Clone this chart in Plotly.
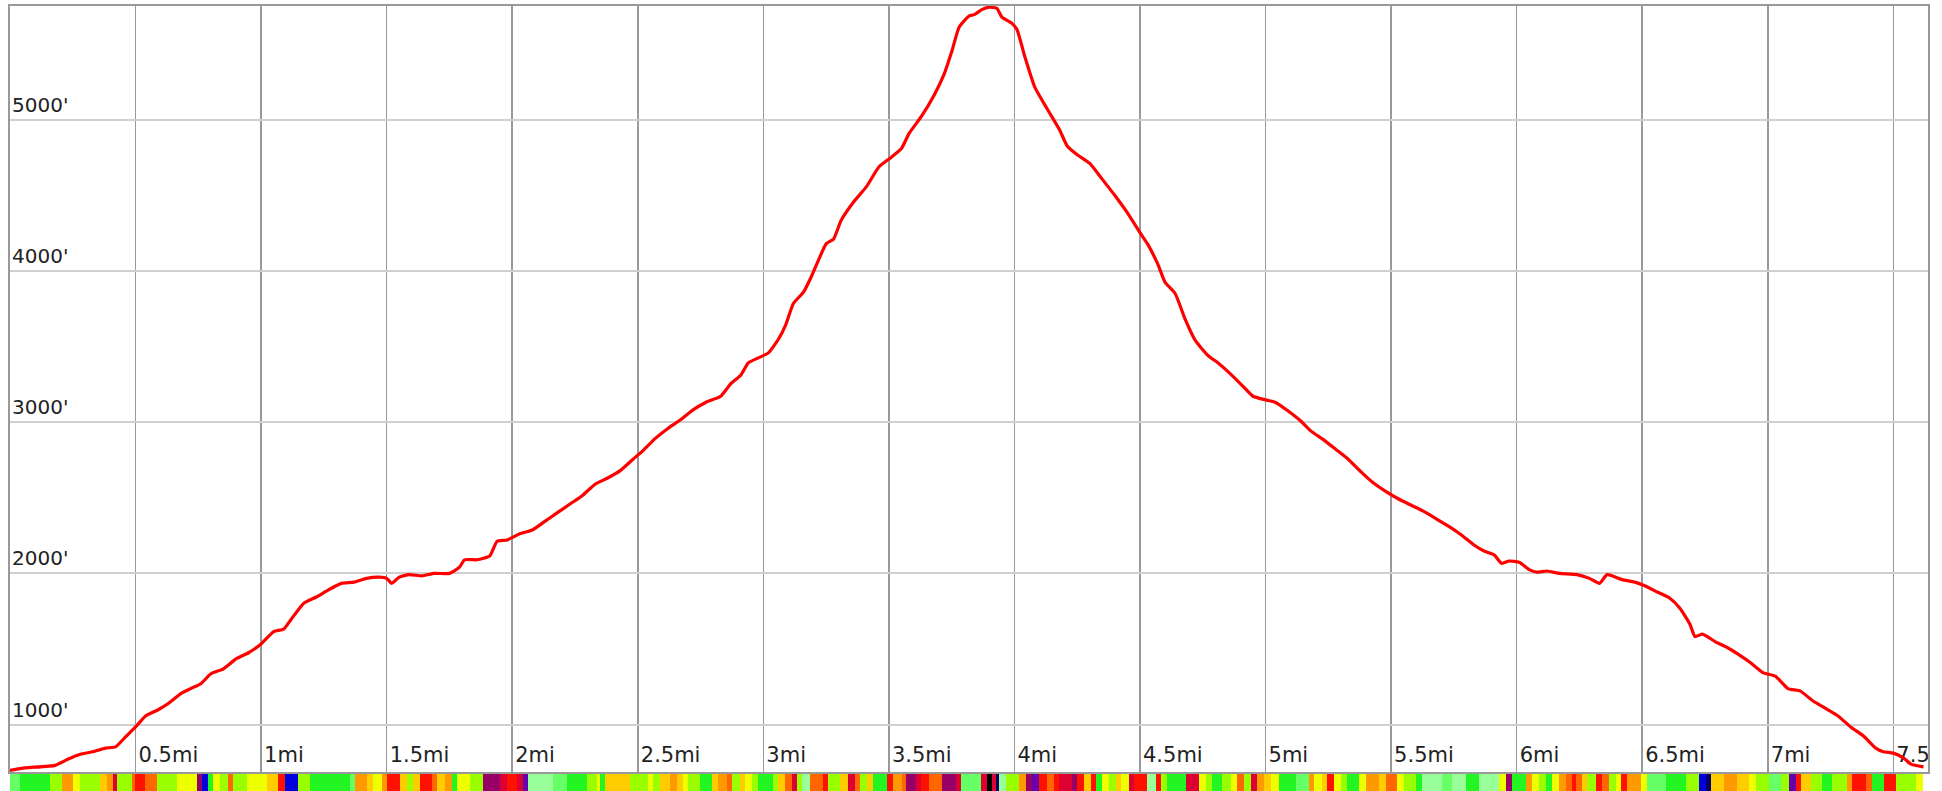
import plotly.graph_objects as go
import numpy as np

# ---- Elevation profile (distance in miles, elevation in feet) ----
dist_mi = [0.00, 0.06, 0.18, 0.23, 0.28, 0.33, 0.38, 0.42, 0.46, 0.50, 0.54, 0.59, 0.63, 0.68, 0.73,
           0.76, 0.80, 0.85, 0.90, 0.95, 1.00, 1.05, 1.09, 1.12, 1.17, 1.22, 1.27, 1.32, 1.37, 1.42,
           1.47, 1.50, 1.52, 1.55, 1.59, 1.64, 1.69, 1.75, 1.79, 1.81, 1.86, 1.91, 1.94, 1.98, 2.03,
           2.08, 2.13, 2.18, 2.23, 2.28, 2.33, 2.38, 2.43, 2.48, 2.52, 2.57, 2.62, 2.67, 2.72, 2.77,
           2.83, 2.87, 2.91, 2.94, 2.98, 3.02, 3.06, 3.09, 3.12, 3.16, 3.19, 3.22, 3.25, 3.28, 3.31,
           3.36, 3.41, 3.46, 3.51, 3.55, 3.58, 3.63, 3.68, 3.72, 3.75, 3.78, 3.82, 3.84, 3.87, 3.90,
           3.93, 3.95, 3.99, 4.01, 4.04, 4.08, 4.13, 4.18, 4.21, 4.25, 4.30, 4.35, 4.40, 4.45, 4.50,
           4.53, 4.57, 4.60, 4.64, 4.68, 4.72, 4.77, 4.81, 4.86, 4.91, 4.95, 5.00, 5.04, 5.09, 5.14,
           5.18, 5.23, 5.28, 5.33, 5.38, 5.43, 5.48, 5.53, 5.58, 5.63, 5.68, 5.73, 5.78, 5.83, 5.87,
           5.91, 5.94, 5.97, 6.01, 6.05, 6.08, 6.12, 6.17, 6.24, 6.29, 6.33, 6.36, 6.42, 6.47, 6.51,
           6.56, 6.61, 6.65, 6.69, 6.71, 6.74, 6.79, 6.84, 6.88, 6.93, 6.98, 7.03, 7.08, 7.13, 7.18,
           7.23, 7.28, 7.33, 7.38, 7.43, 7.46, 7.50, 7.54, 7.57, 7.62]
elev_ft = [697, 713, 730, 770, 803, 820, 844, 852, 918, 984, 1057, 1098, 1139, 1205, 1246,
           1270, 1336, 1369, 1434, 1475, 1533, 1615, 1631, 1697, 1803, 1844, 1893, 1934, 1942, 1967,
           1975, 1967, 1934, 1975, 1992, 1984, 2000, 2000, 2041, 2090, 2090, 2115, 2213, 2221, 2262,
           2287, 2344, 2402, 2459, 2516, 2590, 2631, 2680, 2754, 2811, 2893, 2959, 3016, 3082, 3131,
           3172, 3254, 3311, 3393, 3426, 3459, 3549, 3648, 3787, 3861, 3959, 4074, 4180, 4213, 4336,
           4459, 4557, 4689, 4754, 4811, 4910, 5025, 5164, 5303, 5451, 5615, 5689, 5697, 5730, 5746,
           5738, 5680, 5639, 5598, 5426, 5221, 5074, 4934, 4828, 4770, 4713, 4607, 4500, 4385, 4254,
           4180, 4049, 3926, 3852, 3680, 3541, 3443, 3393, 3320, 3238, 3172, 3148, 3131, 3074, 3008,
           2943, 2885, 2820, 2754, 2672, 2598, 2541, 2492, 2451, 2410, 2361, 2311, 2254, 2188, 2148,
           2123, 2066, 2082, 2074, 2025, 2008, 2016, 2000, 1992, 1967, 1934, 1992, 1959, 1942, 1918,
           1877, 1836, 1770, 1664, 1582, 1598, 1549, 1508, 1467, 1410, 1344, 1320, 1238, 1221, 1156,
           1107, 1057, 984, 926, 844, 820, 811, 779, 738, 720]

# ---- Grade strip: category code per run, run length in sample steps ----
GRADE_STEP_MI = 0.00398
grade_codes = ("g G L O Y L y O C L o R o L Y M B G Y L o L Y y R B L G g O y Y O R y L y R o y O G Y L "
               "M C R C P p g G L Y G y L Y L y O y Y L G y O o L y Y L G L y o C L p o R L y C o L y G "
               "R O o M C R o M C g C K C N p L O M P R o R C M R y R G Y L y Y C R p R L G C Y L G L Y "
               "o L C O y Y G g O Y y R Y L G Y O y o Y L G p g p G p Y M G O Y L G Y O o R o y L R o L "
               "Y R O Y g G L B N y O y Y L g L P R y L G L O R o G R L Y").split()
grade_len = [10, 30, 12, 11, 7, 20, 7, 6, 4, 15, 3, 10, 12, 20, 20, 5, 6, 5, 7, 8, 5, 14, 20, 11, 7, 13, 12, 40,
             5, 12, 6, 9, 5, 13, 7, 6, 7, 12, 5, 8, 7, 5, 13, 13,
             17, 7, 10, 6, 5, 25, 14, 20, 10, 3, 5, 25, 18, 5, 7, 10, 7, 6, 5, 12, 12, 6, 9, 5, 8, 5, 7, 6, 15, 5, 7, 7, 5, 5, 8, 13, 5, 12, 8, 7, 5, 7, 6, 14,
             6, 10, 4, 10, 5, 8, 13, 14, 5, 20, 6, 5, 4, 3, 7, 13, 7, 6, 7, 8, 7, 5, 13, 5, 7, 7, 5, 6, 7, 7, 5, 8, 5, 13, 9, 5, 6, 19, 13, 7, 6, 10, 9, 6,
             7, 7, 6, 7, 7, 8, 17, 13, 5, 8, 5, 7, 7, 6, 12, 7, 13, 7, 11, 7, 12, 6, 20, 10, 14, 13, 20, 7, 6, 14, 6, 7, 7, 6, 7, 7, 6, 4, 6, 5, 9, 6, 7, 7,
             5, 6, 14, 6, 19, 20, 13, 7, 5, 13, 13, 12, 7, 13, 12, 8, 7, 5, 10, 11, 10, 15, 5, 14, 6, 12, 12, 20, 7]
grade_palette = {
    "g": "#66ff66", "p": "#99ff99", "G": "#22f522", "L": "#99ff00", "Y": "#eeff00",
    "y": "#ffcc00", "O": "#ff9900", "o": "#ff6600", "R": "#ff1100", "C": "#dd0033",
    "M": "#990066", "P": "#6600aa", "B": "#0000dd", "N": "#000066", "K": "#000000",
}

# ---- Axes ----
x_ticks = [0.5, 1, 1.5, 2, 2.5, 3, 3.5, 4, 4.5, 5, 5.5, 6, 6.5, 7, 7.5]
x_tick_labels = ["0.5mi", "1mi", "1.5mi", "2mi", "2.5mi", "3mi", "3.5mi", "4mi", "4.5mi",
                 "5mi", "5.5mi", "6mi", "6.5mi", "7mi", "7.5mi"]
y_ticks = [1000, 2000, 3000, 4000, 5000]
y_tick_labels = ["1000'", "2000'", "3000'", "4000'", "5000'"]
X_RANGE = [0, 7.638]
Y_RANGE = [686, 5754]

W, H = 1942, 791
ML, MR, MT, MB = 10, 14, 6, 0
plot_w = W - ML - MR
plot_h = H - MT - MB
main_bottom_px = 772
strip_top_px = 774
main_dom = [(H - main_bottom_px) / plot_h, 1]
strip_dom = [0, (H - strip_top_px) / plot_h]
px_x = (X_RANGE[1] - X_RANGE[0]) / plot_w
px_y = (Y_RANGE[1] - Y_RANGE[0]) / ((main_dom[1] - main_dom[0]) * plot_h)

n = min(len(grade_codes), len(grade_len))
lens = np.array(grade_len[:n]) * GRADE_STEP_MI
ends = np.cumsum(lens)
mids = ends - lens / 2
cols = [grade_palette[c] for c in grade_codes[:n]]

FONT = "DejaVu Sans"
fig = go.Figure()
fig.add_trace(go.Bar(x=mids, y=[1] * n, width=lens, marker=dict(color=cols, line=dict(width=0)),
                     xaxis="x", yaxis="y2", hoverinfo="skip", showlegend=False))
fig.add_trace(go.Scatter(x=[t + 3 * px_x for t in x_ticks], y=[Y_RANGE[0] + 5 * px_y] * len(x_ticks),
                         mode="text", text=x_tick_labels, textposition="top right",
                         textfont=dict(family=FONT, size=21, color="#222222"),
                         cliponaxis=True, hoverinfo="skip", showlegend=False))
fig.add_trace(go.Scatter(x=[X_RANGE[0] + 2 * px_x] * len(y_ticks), y=[t + 3 * px_y for t in y_ticks],
                         mode="text", text=y_tick_labels, textposition="top right",
                         textfont=dict(family=FONT, size=20, color="#222222"),
                         cliponaxis=True, hoverinfo="skip", showlegend=False))
fig.add_trace(go.Scatter(x=dist_mi, y=elev_ft, mode="lines",
                         line=dict(color="#ff0000", width=3.2, shape="spline", smoothing=0.5),
                         hoverinfo="skip", showlegend=False))

fig.update_layout(
    width=W, height=H, margin=dict(l=ML, r=MR, t=MT, b=MB, pad=0),
    plot_bgcolor="white", paper_bgcolor="white", showlegend=False, bargap=0,
    xaxis=dict(range=X_RANGE, tickvals=x_ticks, showticklabels=False, ticks="",
               showgrid=True, gridcolor="#999999", gridwidth=1.5, zeroline=False,
               showline=True, mirror=True, linecolor="#999999", linewidth=2, anchor="y"),
    yaxis=dict(domain=main_dom, range=Y_RANGE, tickvals=y_ticks, showticklabels=False, ticks="",
               showgrid=True, gridcolor="#d0d0d0", gridwidth=2, zeroline=False,
               showline=True, mirror=True, linecolor="#999999", linewidth=2),
    yaxis2=dict(domain=strip_dom, range=[0, 1], visible=False, anchor="x", fixedrange=True),
)
fig.write_html("out.html", config={"displayModeBar": False, "staticPlot": True},
               post_script="document.body.style.margin='0px';document.body.style.overflow='hidden';")
